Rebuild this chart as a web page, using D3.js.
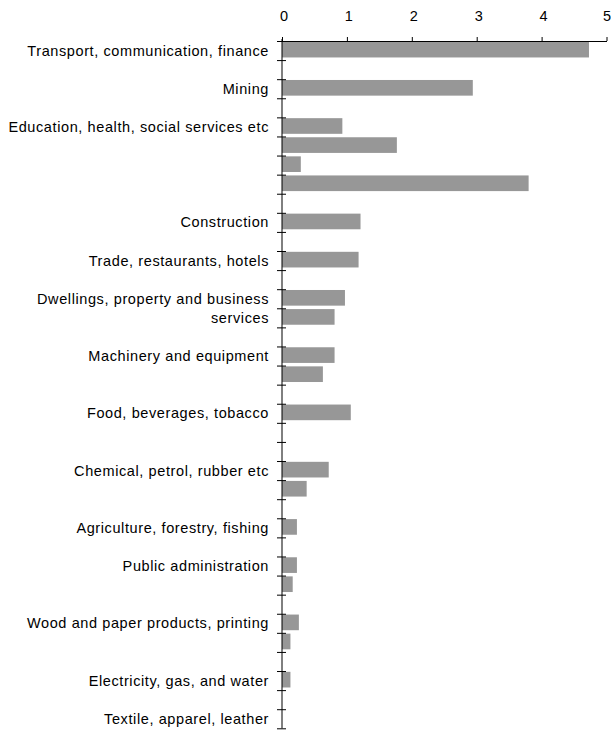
<!DOCTYPE html>
<meta charset="utf-8">
<style>
body { margin: 0; background: #fff; }
svg { font-family: Arial, "Liberation Sans", sans-serif; }
.axis path, .axis line { stroke: #000; }
.label { font-size: 14.5px; letter-spacing: 0.6px; fill: #000; }
</style>
<svg width="611" height="731"></svg>
<script src="https://cdnjs.cloudflare.com/ajax/libs/d3/7.8.5/d3.min.js"></script>
<script>

// one slot per row of the category axis, empty label = unlabelled row
var categories = [
  "Transport, communication, finance", "",
  "Mining", "",
  "Education, health, social services etc", "", "", "", "",
  "Construction", "",
  "Trade, restaurants, hotels", "",
  "Dwellings, property and business|services", "", "",
  "Machinery and equipment", "", "",
  "Food, beverages, tobacco", "", "",
  "Chemical, petrol, rubber etc", "", "",
  "Agriculture, forestry, fishing", "",
  "Public administration", "", "",
  "Wood and paper products, printing", "", "",
  "Electricity, gas, and water", "",
  "Textile, apparel, leather"
];

var values = [
  4.73, null,
  2.94, null,
  0.93, 1.77, 0.29, 3.80, null,
  1.21, null,
  1.18, null,
  0.97, 0.81, null,
  0.81, 0.63, null,
  1.06, null, null,
  0.72, 0.38, null,
  0.23, null,
  0.23, 0.165, null,
  0.26, 0.13, null,
  0.13, null,
  0
];

var xTicks = [0, 1, 2, 3, 4, 5];

var svg = d3.select("svg"),
    plotLeft = 282, plotRight = 606.5, plotTop = 41, plotBottom = 728.3;

var x = d3.scaleLinear().domain([0, 5]).range([plotLeft, plotRight]);
var y = d3.scaleLinear().domain([0, categories.length]).range([plotTop, plotBottom]);
var step = y(1) - y(0);

// bars
svg.append("g").selectAll("rect")
  .data(values.map(function(v, i) { return {v: v, i: i}; }).filter(function(d) { return d.v; }))
  .enter()
  .append("rect")
  .attr("x", x(0))
  .attr("y", function(d) { return y(d.i) + 0.8; })
  .attr("width", function(d) { return x(d.v) - x(0); })
  .attr("height", step * 0.82)
  .attr("fill", "#979797");

// top value axis
var xAxis = svg.append("g")
  .attr("class", "axis")
  .attr("transform", "translate(0," + plotTop + ")")
  .call(d3.axisTop(x).tickValues(xTicks).tickSizeInner(4).tickSizeOuter(0).tickPadding(16).tickFormat(d3.format("d")));
xAxis.selectAll("text").attr("font-size", 14.5).attr("fill", "#000")
  .attr("dx", function(d) { return d === 5 ? 0 : 1.5; });
xAxis.attr("font-family", null).attr("font-size", null);

// category axis with ticks between rows, crossing the line
var yAxis = svg.append("g")
  .attr("class", "axis")
  .attr("transform", "translate(" + plotLeft + ",0)")
  .call(d3.axisLeft(y).tickValues(d3.range(categories.length + 1)).tickSize(4).tickSizeOuter(0).tickFormat(""));
yAxis.selectAll(".tick line").attr("x1", -5).attr("x2", 4);
yAxis.select(".domain").attr("d", "M0," + (plotTop - 2) + "V" + plotBottom);

// category labels, right aligned
var labels = svg.append("g").selectAll("text")
  .data(categories.map(function(c, i) { return {c: c, i: i}; }).filter(function(d) { return d.c; }))
  .enter()
  .append("text")
  .attr("class", "label")
  .attr("text-anchor", "end")
  .attr("x", 269)
  .attr("y", function(d) { return y(d.i + 0.5); });

labels.each(function(d) {
  var lines = d.c.split("|");
  var t = d3.select(this);
  lines.forEach(function(line, k) {
    t.append("tspan")
      .attr("x", 269)
      .attr("dy", k === 0 ? "0.35em" : step)
      .text(line);
  });
});

</script>
